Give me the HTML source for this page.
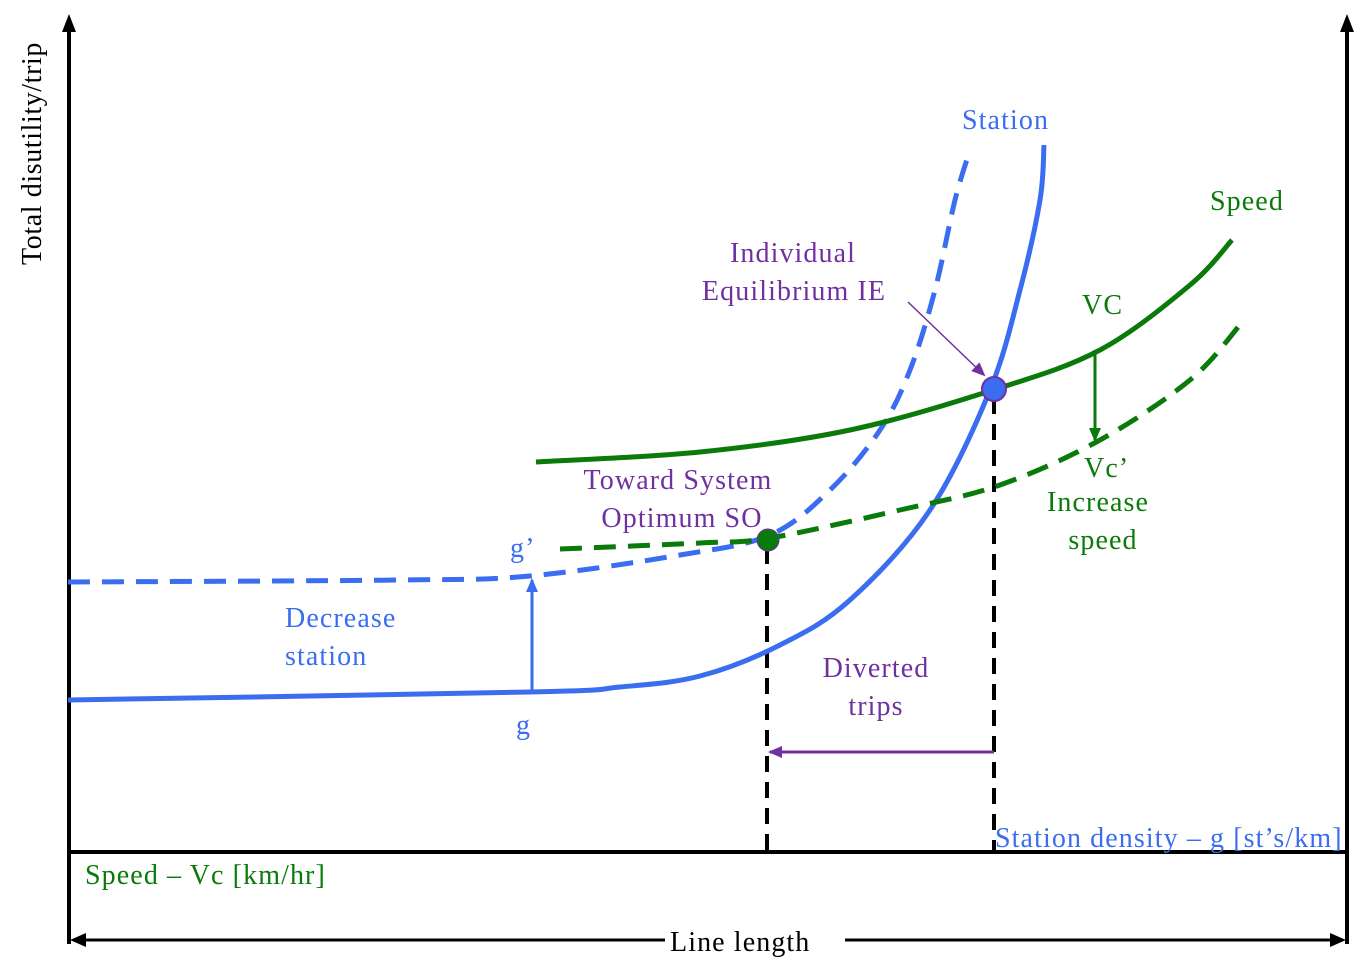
<!DOCTYPE html>
<html><head><meta charset="utf-8"><style>
html,body{margin:0;padding:0;background:#fff;}
svg{display:block;}
text{font-family:"Liberation Serif",serif;font-size:28px;letter-spacing:1.1px;}
</style></head><body>
<svg id="chart" width="1363" height="978" viewBox="0 0 1363 978" xmlns="http://www.w3.org/2000/svg">
<defs>
<marker id="ab" markerWidth="14" markerHeight="12" refX="12" refY="6" orient="auto" markerUnits="userSpaceOnUse"><path d="M0,0 L14,6 L0,12 z" fill="#3a6df0"/></marker>
<marker id="ag" markerWidth="14" markerHeight="12" refX="12" refY="6" orient="auto" markerUnits="userSpaceOnUse"><path d="M0,0 L14,6 L0,12 z" fill="#0a7a0a"/></marker>
<marker id="ap" markerWidth="14" markerHeight="12" refX="12" refY="6" orient="auto" markerUnits="userSpaceOnUse"><path d="M0,0 L14,6 L0,12 z" fill="#7030a0"/></marker>
</defs>
<g stroke="#000" stroke-width="4" fill="none">
<line x1="69" y1="944" x2="69" y2="28"/>
<path d="M62,32 L69,14 L76,32 z" fill="#000" stroke="none"/>
<line x1="1347" y1="944" x2="1347" y2="28"/>
<path d="M1340,32 L1347,14 L1354,32 z" fill="#000" stroke="none"/>
<line x1="69" y1="852" x2="1347" y2="852"/>
<line x1="80" y1="940" x2="665" y2="940" stroke-width="3"/>
<line x1="845" y1="940" x2="1336" y2="940" stroke-width="3"/>
<path d="M86,933 L70,940 L86,947 z" fill="#000" stroke="none"/>
<path d="M1330,933 L1346,940 L1330,947 z" fill="#000" stroke="none"/>
</g>
<g stroke="#000" stroke-width="4" stroke-dasharray="16,10">
<line x1="767" y1="548" x2="767" y2="850"/>
<line x1="994" y1="398" x2="994" y2="850"/>
</g>
<g id="curves"></g>
<line x1="994" y1="752" x2="770" y2="752" stroke="#7030a0" stroke-width="3" marker-end="url(#ap)"/>
<line x1="532" y1="692" x2="532" y2="580" stroke="#3a6df0" stroke-width="3" marker-end="url(#ab)"/>
<line x1="1095" y1="350" x2="1095" y2="440" stroke="#0a7a0a" stroke-width="3" marker-end="url(#ag)"/>
<line x1="908" y1="302" x2="984" y2="375" stroke="#7030a0" stroke-width="1.5" marker-end="url(#ap)"/>
<circle cx="994" cy="389" r="12" fill="#3a6df0" stroke="#7030a0" stroke-width="2"/>
<circle cx="768" cy="540" r="11" fill="#0a7a0a" stroke="#7030a0" stroke-width="1"/>
<text transform="translate(41,265) rotate(-90)" fill="#000" style="letter-spacing:0.6px">Total disutility/trip</text>
<text x="670" y="951" fill="#000">Line length</text>
<text x="85" y="884" fill="#0a7a0a">Speed – Vc [km/hr]</text>
<text x="995" y="847" fill="#3a6df0">Station density – g [st’s/km]</text>
<text x="962" y="129" fill="#3a6df0">Station</text>
<text x="1210" y="210" fill="#0a7a0a">Speed</text>
<text x="1082" y="314" fill="#0a7a0a">VC</text>
<text x="1084" y="477" fill="#0a7a0a">Vc’</text>
<text x="1098" y="511" text-anchor="middle" fill="#0a7a0a">Increase</text>
<text x="1103" y="549" text-anchor="middle" fill="#0a7a0a">speed</text>
<text x="793" y="262" text-anchor="middle" fill="#7030a0">Individual</text>
<text x="794" y="300" text-anchor="middle" fill="#7030a0">Equilibrium IE</text>
<text x="678" y="489" text-anchor="middle" fill="#7030a0">Toward System</text>
<text x="682" y="527" text-anchor="middle" fill="#7030a0">Optimum SO</text>
<text x="876" y="677" text-anchor="middle" fill="#7030a0">Diverted</text>
<text x="876" y="715" text-anchor="middle" fill="#7030a0">trips</text>
<text x="285" y="627" fill="#3a6df0">Decrease</text>
<text x="285" y="665" fill="#3a6df0">station</text>
<text x="510" y="557" fill="#3a6df0">g’</text>
<text x="516" y="734" fill="#3a6df0">g</text>
</svg>
<script>
// curve control points (x, y in pixel space of the diagram)
const stationX = [68, 530, 620, 700, 780, 850, 930, 990, 1020, 1040, 1044];
const stationY = [700, 692, 687, 676, 645, 600, 510, 390, 290, 200, 145];
const stationPrimeX = [68, 400, 530, 680, 770, 830, 880, 910, 935, 955, 970];
const stationPrimeY = [582, 580, 576, 555, 535, 490, 430, 370, 290, 200, 150];
const speedX = [536, 700, 850, 993, 1100, 1190, 1232];
const speedY = [462, 452, 430, 390, 350, 285, 240];
const speedPrimeX = [560, 700, 770, 900, 1000, 1100, 1190, 1240];
const speedPrimeY = [549, 543, 538, 510, 485, 440, 380, 325];

function smooth(xs, ys) {
  let d = `M${xs[0]},${ys[0]}`;
  for (let i = 0; i < xs.length - 1; i++) {
    const x0 = xs[Math.max(i - 1, 0)], y0 = ys[Math.max(i - 1, 0)];
    const x1 = xs[i], y1 = ys[i], x2 = xs[i + 1], y2 = ys[i + 1];
    const x3 = xs[Math.min(i + 2, xs.length - 1)], y3 = ys[Math.min(i + 2, ys.length - 1)];
    d += ` C${x1 + (x2 - x0) / 6},${y1 + (y2 - y0) / 6} ${x2 - (x3 - x1) / 6},${y2 - (y3 - y1) / 6} ${x2},${y2}`;
  }
  return d;
}
const g = document.getElementById('curves');
function addCurve(xs, ys, color, dash, name) {
  const p = document.createElementNS('http://www.w3.org/2000/svg', 'path');
  p.setAttribute('d', smooth(xs, ys));
  p.setAttribute('fill', 'none');
  p.setAttribute('stroke', color);
  p.setAttribute('stroke-width', '5');
  if (dash) p.setAttribute('stroke-dasharray', dash);
  
  
  g.appendChild(p);
}
addCurve(stationX, stationY, '#3a6df0', null, 'station-curve');
addCurve(stationPrimeX, stationPrimeY, '#3a6df0', '22,12', 'station-curve-shifted');
addCurve(speedX, speedY, '#0a7a0a', null, 'speed-curve');
addCurve(speedPrimeX, speedPrimeY, '#0a7a0a', '22,12', 'speed-curve-shifted');
</script>
</body></html>
